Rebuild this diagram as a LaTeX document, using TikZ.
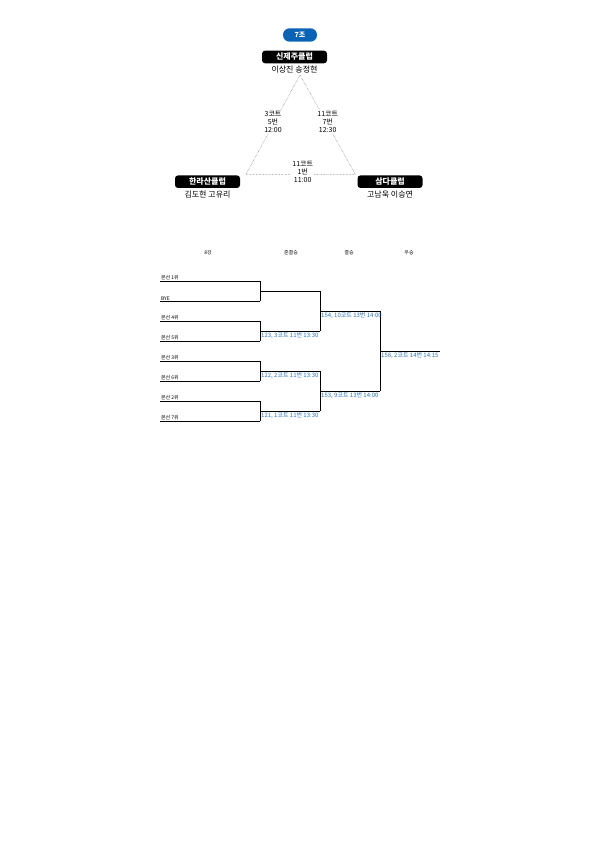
\documentclass[tikz,border=0pt]{standalone}
\usepackage{fontspec}
\setmainfont{Noto Sans CJK KR}
\definecolor{groupblue}{HTML}{0B63B6}
\definecolor{matchblue}{HTML}{2A72B8}
\tikzset{
  club/.style={fill=black, text=white, rounded corners=3pt, minimum width=65pt,
    minimum height=12.6pt, inner sep=0pt, font=\bfseries\fontsize{8}{8}\selectfont},
  players/.style={inner sep=0pt, font=\fontsize{8}{8}\selectfont},
  courtlbl/.style={align=center, fill=white, inner sep=1pt, font=\fontsize{7}{7.7}\selectfont},
  tri/.style={black!60, densely dotted, line width=0.45pt},
  roundhead/.style={inner sep=0pt, font=\fontsize{5}{5}\selectfont},
  seed/.style={anchor=south west, inner sep=0.8pt, font=\fontsize{5}{5}\selectfont},
  slot/.style={anchor=north west, inner xsep=1pt, inner ysep=1.8pt, text=matchblue, font=\fontsize{6}{6}\selectfont},
  bline/.style={line width=0.6pt}
}
\begin{document}
\begin{tikzpicture}[x=1pt,y=-1pt]
\useasboundingbox (0,0) rectangle (595,842);
% group label
\node[fill=groupblue, text=white, rounded corners=6.5pt, minimum width=34pt, minimum height=13.4pt,
  inner sep=0pt, font=\bfseries\fontsize{7}{7}\selectfont] (grp) at (300,35) {7조};
% round robin
\coordinate (apex) at (300,75);
\coordinate (lft) at (246,174.3);
\coordinate (rgt) at (355.3,174.3);
\draw[tri] (apex) -- (lft) -- (rgt) -- cycle;
\node[club] (c1) at (294.5,57) {신제주클럽};
\node[players] (p1) at (294.5,70) {이상진 송정현};
\node[club] (c2) at (207.5,181.7) {한라산클럽};
\node[players] (p2) at (207.5,195) {김도현 고유리};
\node[club] (c3) at (390,181.7) {삼다클럽};
\node[players] (p3) at (390,195) {고남욱 이승연};
\node[courtlbl] (m12) at (273,122) {3코트\\5번\\12:00};
\node[courtlbl] (m13) at (327.7,122) {11코트\\7번\\12:30};
\node[courtlbl] (m23) at (302.7,172) {11코트\\1번\\11:00};
% bracket
\node[roundhead] (h1) at (208,253) {8강};
\node[roundhead] (h2) at (291,253) {준결승};
\node[roundhead] (h3) at (349,253) {결승};
\node[roundhead] (h4) at (409,253) {우승};
\foreach \name/\y [count=\i] in {본선 1위/281,BYE/301,본선 4위/321,본선 5위/341,
    본선 3위/361,본선 6위/381,본선 2위/401,본선 7위/421} {
  \node[seed] (s\i) at (160,\y) {\name};
  \draw[bline] (s\i.south west) -- ++(100,0);
}
\foreach \y in {291,331,371,411}
  \draw[bline] (260,\y-10) -- (260,\y+10) (260,\y) -- (320,\y);
\foreach \y in {311,391}
  \draw[bline] (320,\y-20) -- (320,\y+20) (320,\y) -- (380,\y);
\draw[bline] (380,311) -- (380,391) (380,351) -- (440,351);
\node[slot] (g123) at (260,331) {123, 3코트 11번 13:30};
\node[slot] (g122) at (260,371) {122, 2코트 11번 13:30};
\node[slot] (g121) at (260,411) {121, 1코트 11번 13:30};
\node[slot] (g154) at (320,311) {154, 10코트 13번 14:00};
\node[slot] (g153) at (320,391) {153, 9코트 13번 14:00};
\node[slot] (g158) at (380,351) {158, 2코트 14번 14:15};
\end{tikzpicture}
\end{document}
